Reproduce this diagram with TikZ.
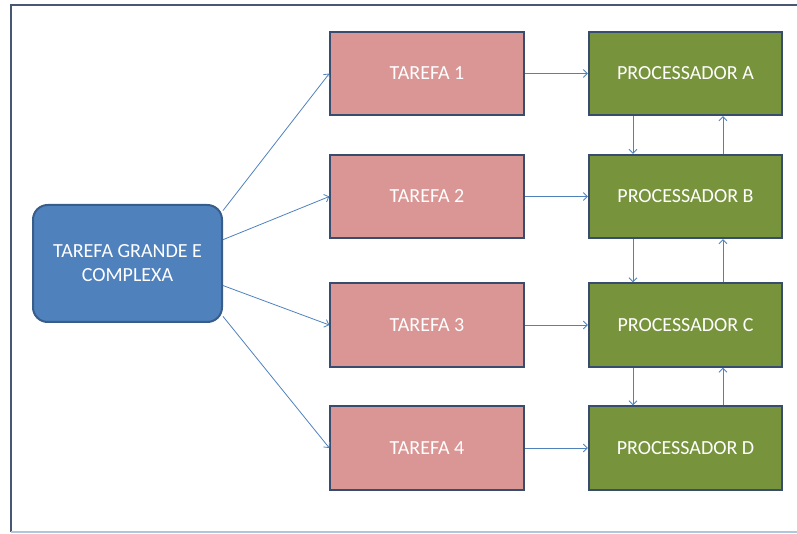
\documentclass[tikz,border=0pt]{standalone}
\usepackage{fontspec}
\setmainfont{Carlito}
\usetikzlibrary{arrows.meta}
\definecolor{framedark}{RGB}{72,88,114}
\definecolor{framelight}{RGB}{172,200,220}
\definecolor{boxline}{RGB}{56,76,110}
\definecolor{bigfill}{RGB}{79,129,189}
\definecolor{bigline}{RGB}{56,93,138}
\definecolor{tarefafill}{RGB}{217,150,148}
\definecolor{procfill}{RGB}{119,147,60}
\definecolor{seta}{RGB}{79,129,189}
\begin{document}
\begin{tikzpicture}[x=0.75pt,y=-0.75pt,
    caixa/.style={draw=boxline, line width=1.5pt, text=white,
      minimum width=145pt, minimum height=62.5pt, inner sep=0pt,
      font=\fontsize{15}{18}\selectfont},
    tarefa/.style={caixa, fill=tarefafill},
    proc/.style={caixa, fill=procfill},
    grande/.style={caixa, draw=bigline, fill=bigfill, rounded corners=11pt,
      minimum width=141.75pt, minimum height=87.75pt, align=center},
    seta/.style={draw=seta, line width=0.6pt, -{Straight Barb[length=3pt,width=6pt]}}]
  \useasboundingbox (0,0) rectangle (797,534);
  % moldura
  \draw[framedark, line width=1.5pt] (797,5)--(11,5)--(11,532);
  \draw[framelight, line width=1.5pt] (11,532)--(797,532);
  % tarefa grande
  \node[grande] (big) at (127.5,263.5) {TAREFA GRANDE E\\COMPLEXA};
  % tarefas e processadores
  \foreach \i/\y/\p in {1/73.5/A,2/196.5/B,3/325/C,4/448/D} {
    \node[tarefa] (t\i) at (427,\y) {TAREFA \i};
    \node[proc] (p\i) at (685.5,\y) {PROCESSADOR \p};
    \draw[seta] (t\i) -- (p\i);
  }
  \foreach \i/\a in {1/29,2/14,3/-13,4/-29} {
    \draw[seta] (big.\a) -- (t\i.west);
  }
  % ligacoes entre processadores
  \foreach \i/\j in {1/2,2/3,3/4} {
    \draw[seta] ([xshift=-39.4pt]p\i.south) -- ([xshift=-39.4pt]p\j.north);
    \draw[seta] ([xshift=28.1pt]p\j.north) -- ([xshift=28.1pt]p\i.south);
  }
\end{tikzpicture}
\end{document}
